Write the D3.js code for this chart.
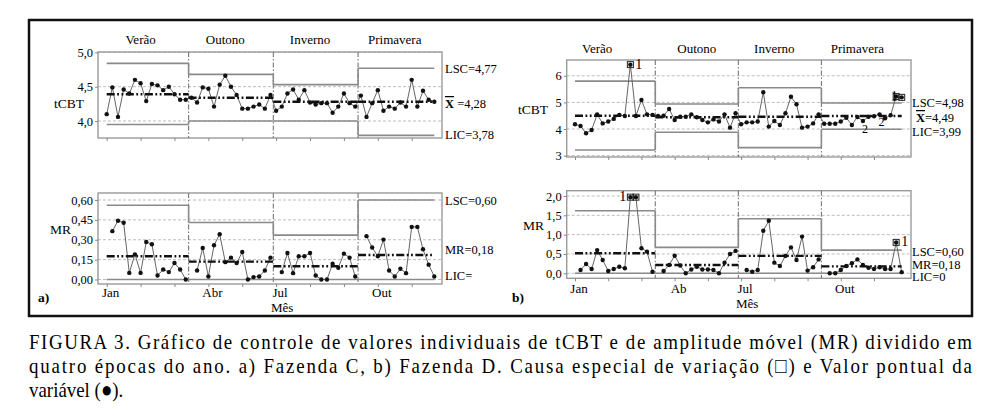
<!DOCTYPE html>
<html>
<head>
<meta charset="utf-8">
<script src="https://d3js.org/d3.v7.min.js"></script>
<style>
  body { margin: 0; background: #fff; }
  text { font-family: "Liberation Serif", "Times New Roman", serif; fill: #000; }
</style>
</head>
<body>
<svg id="fig" width="1003" height="419" font-family="Liberation Serif"></svg>
<script>
// ---- data ----
var seasons = ["Verão", "Outono", "Inverno", "Primavera"];
var monthsC = ["Jan", "Abr", "Jul", "Out"];
var monthsD = ["Jan", "Ab", "Jul", "Out"];
var stageStart = [0, 15, 30, 45];

// a) Fazenda C - individual tCBT values
var tcbtC = [4.10, 4.49, 4.06, 4.46, 4.40, 4.60, 4.55, 4.29, 4.54, 4.52, 4.45, 4.50, 4.39, 4.31, 4.31,
             4.34, 4.27, 4.49, 4.47, 4.21, 4.53, 4.66, 4.50, 4.38, 4.18, 4.18, 4.21, 4.24, 4.18, 4.38,
             4.15, 4.21, 4.40, 4.46, 4.31, 4.45, 4.27, 4.24, 4.26, 4.26, 4.12, 4.21, 4.40, 4.26, 4.21,
             4.37, 4.06, 4.26, 4.45, 4.15, 4.21, 4.18, 4.27, 4.21, 4.60, 4.21, 4.44, 4.31, 4.28];
// a) moving ranges (null = first point of a stage)
var mrC = [null, 0.365, 0.443, 0.428, 0.05, 0.19, 0.05, 0.283, 0.266, 0.03, 0.076, 0.056, 0.124, 0.076, 0.0,
           null, 0.068, 0.238, 0.023, 0.258, 0.342, 0.131, 0.165, 0.124, 0.207, 0.0, 0.018, 0.023, 0.068, 0.165,
           null, 0.056, 0.2, 0.048, 0.175, 0.175, 0.2, 0.03, 0.0, 0.0, 0.119, 0.089, 0.195, 0.165, 0.023,
           null, 0.327, 0.241, 0.175, 0.301, 0.068, 0.023, 0.081, 0.048, 0.397, 0.397, 0.228, 0.112, 0.023];
var uclC = [4.84, 4.68, 4.53, 4.77], clC = [4.39, 4.34, 4.28, 4.28], lclC = [3.95, 4.00, 4.00, 3.79];
var mrUclC = [0.56, 0.43, 0.335, 0.60], mrClC = [0.175, 0.135, 0.10, 0.185], mrLclC = [0, 0, 0, 0];

// b) Fazenda D
var tcbtD = [4.18, 4.11, 3.84, 3.96, 4.55, 4.21, 4.28, 4.38, 4.53, 4.49, 6.42, 4.49, 5.09, 4.55, 4.53,
             4.49, 4.50, 4.75, 4.34, 4.46, 4.46, 4.55, 4.44, 4.34, 4.25, 4.36, 4.28, 4.55, 4.05, 4.59,
             4.18, 4.25, 4.25, 4.28, 5.38, 4.09, 4.30, 4.15, 4.59, 5.21, 4.93, 4.05, 4.09, 4.21, 4.55,
             4.20, 4.20, 4.20, 4.28, 4.42, 4.15, 4.45, 4.30, 4.46, 4.48, 4.55, 4.40, 4.52, 5.22, 5.19];
var mrD = [null, 0.085, 0.24, 0.11, 0.60, 0.345, 0.06, 0.11, 0.17, 0.13, 1.97, 1.97, 0.65, 0.56, 0.04,
           null, 0.06, 0.215, 0.455, 0.2, 0.0, 0.10, 0.17, 0.10, 0.10, 0.085, 0.0, 0.275, 0.50, 0.58,
           null, 0.085, 0.04, 0.085, 1.10, 1.36, 0.275, 0.19, 0.45, 0.67, 0.345, 0.95, 0.07, 0.155, 0.36,
           null, 0.0, 0.0, 0.085, 0.19, 0.26, 0.36, 0.215, 0.145, 0.11, 0.155, 0.11, 0.11, 0.80, 0.03];
var uclD = [5.80, 4.94, 5.55, 4.98], clD = [4.50, 4.44, 4.46, 4.49], lclD = [3.21, 3.88, 3.30, 3.99];
var mrUclD = [1.62, 0.67, 1.41, 0.60], mrClD = [0.52, 0.215, 0.45, 0.18], mrLclD = [0, 0, 0, 0];

// special-cause flags: [index, test, label side]
var flagsDtop = [[10, "1", "r"], [52, "2", "b"], [55, "2", "b"], [58, "1", "n"], [59, "1", "l"]];
var flagsDmr = [[10, "1", "l"], [11, "1", "n"], [58, "1", "r"]];

// ---- drawing ----
var svg = d3.select("#fig");
var comma = function (f) { return function (d) { return d3.format(f)(d).replace(".", ","); }; };

// outer frame
svg.append("rect").attr("x", 29).attr("y", 20).attr("width", 943).attr("height", 296)
  .attr("fill", "none").attr("stroke", "#111").attr("stroke-width", 2.5);

function panel(p) {
  var g = svg.append("g");
  var n = p.vals.length;
  var x = d3.scaleLinear().domain([0, n - 1]).range(p.xr);
  var y = d3.scaleLinear().domain(p.yd).range(p.yr);
  var L = p.box[0], R = p.box[1], T = p.box[2], B = p.box[3];

  // gridlines
  g.selectAll(".grid").data(p.grid).enter().append("line")
    .attr("x1", L).attr("x2", R).attr("y1", y).attr("y2", y)
    .attr("stroke", "#bdbdbd").attr("stroke-width", 1).attr("stroke-dasharray", "3,2");

  // plot border
  g.append("rect").attr("x", L).attr("y", T).attr("width", R - L).attr("height", B - T)
    .attr("fill", "none").attr("stroke", "#9a9a9a").attr("stroke-width", 1.4);

  // axes
  var ay = g.append("g").attr("transform", "translate(" + L + ",0)")
    .call(d3.axisLeft(y).tickValues(p.grid).tickFormat(p.fmt).tickSize(3).tickPadding(2));
  ay.select(".domain").remove();
  ay.selectAll("line").attr("stroke", "#888");
  ay.selectAll("text").attr("font-size", 12.5).attr("font-family", "Liberation Serif").attr("fill", "#000");

  var ticks = d3.range(0, n - 3, 6);
  var ax = g.append("g").attr("transform", "translate(0," + B + ")")
    .call(d3.axisBottom(x).tickValues(ticks).tickFormat("").tickSize(3));
  ax.select(".domain").remove();
  ax.selectAll("line").attr("stroke", "#888");

  // stage dividers
  var ends = stageStart.slice(1).map(function (s) { return s - 1; }).concat([n - 1]);
  stageStart.slice(1).forEach(function (s) {
    g.append("line").attr("x1", x(s - 0.5)).attr("x2", x(s - 0.5)).attr("y1", T).attr("y2", B)
      .attr("stroke", "#777").attr("stroke-width", 1.1).attr("stroke-dasharray", "5,2,1.5,2");
  });

  function segs(vals, color, width, dash) {
    stageStart.forEach(function (s, k) {
      var xa = k === 0 ? x(0) : x(s - 0.5);
      var xb = k === stageStart.length - 1 ? x(n - 1) : x(ends[k] + 0.5);
      var ln = g.append("line").attr("x1", xa).attr("x2", xb).attr("y1", y(vals[k])).attr("y2", y(vals[k]))
        .attr("stroke", color).attr("stroke-width", width);
      if (dash) ln.attr("stroke-dasharray", dash);
      if (!dash && k > 0) {
        g.append("line").attr("x1", xa).attr("x2", xa).attr("y1", y(vals[k - 1])).attr("y2", y(vals[k]))
          .attr("stroke", color).attr("stroke-width", width);
      }
    });
  }
  segs(p.ucl, "#8a8a8a", 1.6);
  segs(p.lcl, "#8a8a8a", 1.6);

  // data line (broken at each stage start for MR)
  var line = d3.line().defined(function (d) { return d != null; })
    .x(function (d, i) { return x(i); }).y(function (d) { return y(d); });
  g.append("path").datum(p.vals).attr("d", line)
    .attr("fill", "none").attr("stroke", "#666").attr("stroke-width", 1);

  segs(p.cl, "#111", 2.4, "8,2.5,1.8,2.5,1.8,2.5");

  g.selectAll(".pt").data(p.vals.map(function (d, i) { return [i, d]; }).filter(function (d) { return d[1] != null; }))
    .enter().append("circle")
    .attr("cx", function (d) { return x(d[0]); }).attr("cy", function (d) { return y(d[1]); })
    .attr("r", 2.2).attr("fill", "#111");

  // special causes
  (p.flags || []).forEach(function (f) {
    var cx = x(f[0]), cy = y(p.vals[f[0]]);
    if (f[1] === "1") {
      g.append("rect").attr("x", cx - 3).attr("y", cy - 3).attr("width", 6).attr("height", 6)
        .attr("fill", "none").attr("stroke", "#222").attr("stroke-width", 1);
    }
    if (f[2] === "r") g.append("text").attr("x", cx + 5).attr("y", cy + 4).attr("font-size", 14).text(f[1]);
    if (f[2] === "l") g.append("text").attr("x", cx - 4).attr("y", cy + 4).attr("font-size", 14).attr("text-anchor", "end").text(f[1]);
    if (f[2] === "b") g.append("text").attr("x", cx + 2).attr("y", cy + 12).attr("font-size", 12).attr("text-anchor", "middle").text(f[1]);
  });

  // season labels
  if (p.seasonY) {
    seasons.forEach(function (s, k) {
      g.append("text").attr("x", x(p.seasonIdx[k])).attr("y", p.seasonY).attr("text-anchor", "middle")
        .attr("font-size", 13).text(s);
    });
  }
  // month labels
  if (p.months) {
    [0, 18, 30, 48].forEach(function (i, k) {
      g.append("text").attr("x", x(i) + 4).attr("y", p.monthY).attr("text-anchor", "middle")
        .attr("font-size", 13).text(p.months[k]);
    });
    g.append("text").attr("x", x(30) + 6).attr("y", p.monthY + 15).attr("text-anchor", "middle")
      .attr("font-size", 13).text("Mês");
  }
  // y title
  g.append("text").attr("x", p.yt[0]).attr("y", p.yt[1]).attr("text-anchor", "end")
    .attr("font-size", 13.5).text(p.ytitle);
  // right labels
  p.right.forEach(function (r) {
    var t = g.append("text").attr("x", r[1]).attr("y", r[2]).attr("font-size", 12.5);
    if (r[0].charAt(0) === "X") {
      t.append("tspan").attr("font-weight", "bold").style("text-decoration", "overline").text("X");
      t.append("tspan").text(r[0].slice(1));
    } else t.text(r[0]);
  });
  return x;
}

// a) top
panel({ vals: tcbtC, xr: [106.7, 434.3], yd: [4.0, 4.5], yr: [121, 86.7], box: [98, 442, 52, 138],
  grid: [4.0, 4.5, 5.0], fmt: comma(".1f"), ucl: uclC, cl: clC, lcl: lclC,
  seasonY: 44, seasonIdx: [6, 21, 36, 51], ytitle: "tCBT", yt: [84, 108],
  right: [["LSC=4,77", 445, 73], ["X =4,28", 445, 108], ["LIC=3,78", 445, 139]] });
// a) MR
panel({ vals: mrC, xr: [106.7, 434.3], yd: [0, 0.6], yr: [279.5, 200], box: [98, 442, 193, 284],
  grid: [0, 0.15, 0.30, 0.45, 0.60], fmt: comma(".2f"), ucl: mrUclC, cl: mrClC, lcl: mrLclC,
  months: monthsC, monthY: 297, ytitle: "MR", yt: [71, 234],
  right: [["LSC=0,60", 445, 205], ["MR=0,18", 445, 254], ["LIC=", 445, 280]] });
// b) top
panel({ vals: tcbtD, xr: [575, 901.7], yd: [3, 6], yr: [155.6, 75.8], box: [566.7, 911, 60, 157],
  grid: [3, 4, 5, 6], fmt: d3.format("d"), ucl: uclD, cl: clD, lcl: lclD, flags: flagsDtop,
  seasonY: 53, seasonIdx: [4, 22, 36, 51], ytitle: "tCBT", yt: [548, 114],
  right: [["LSC=4,98", 912, 107], ["X=4,49", 916, 122], ["LIC=3,99", 912, 136]] });
// b) MR
panel({ vals: mrD, xr: [575, 901.7], yd: [0, 2], yr: [273.3, 196], box: [566.7, 911, 190.7, 278.3],
  grid: [0, 0.5, 1.0, 1.5, 2.0], fmt: comma(".1f"), ucl: mrUclD, cl: mrClD, lcl: mrLclD, flags: flagsDmr,
  months: monthsD, monthY: 293, ytitle: "MR", yt: [544, 230],
  right: [["LSC=0,60", 912, 256], ["MR=0,18", 912, 269], ["LIC=0", 912, 281]] });

// panel letters
svg.append("text").attr("x", 38).attr("y", 302).attr("font-size", 13.5).attr("font-weight", "bold").text("a)");
svg.append("text").attr("x", 512).attr("y", 302).attr("font-size", 13.5).attr("font-weight", "bold").text("b)");

// caption: tall, narrow glyphs, justified to the frame width
var caption = [
  "FIGURA 3. Gráfico de controle de valores individuais de tCBT e de amplitude móvel (MR) dividido em",
  "quatro épocas do ano. a) Fazenda C, b) Fazenda D. Causa especial de variação (\u25A1) e Valor pontual da",
  "variável (\u25CF)."
];
var sx = 0.86;
caption.forEach(function (c, i) {
  var t = svg.append("text").attr("x", 0).attr("y", 0).attr("font-size", 22).text(c)
    .attr("transform", "translate(29," + (349 + i * 24) + ") scale(" + sx + ",1)");
  if (i < 2) t.attr("textLength", 943 / sx).attr("lengthAdjust", "spacing");
});
</script>
</body>
</html>
